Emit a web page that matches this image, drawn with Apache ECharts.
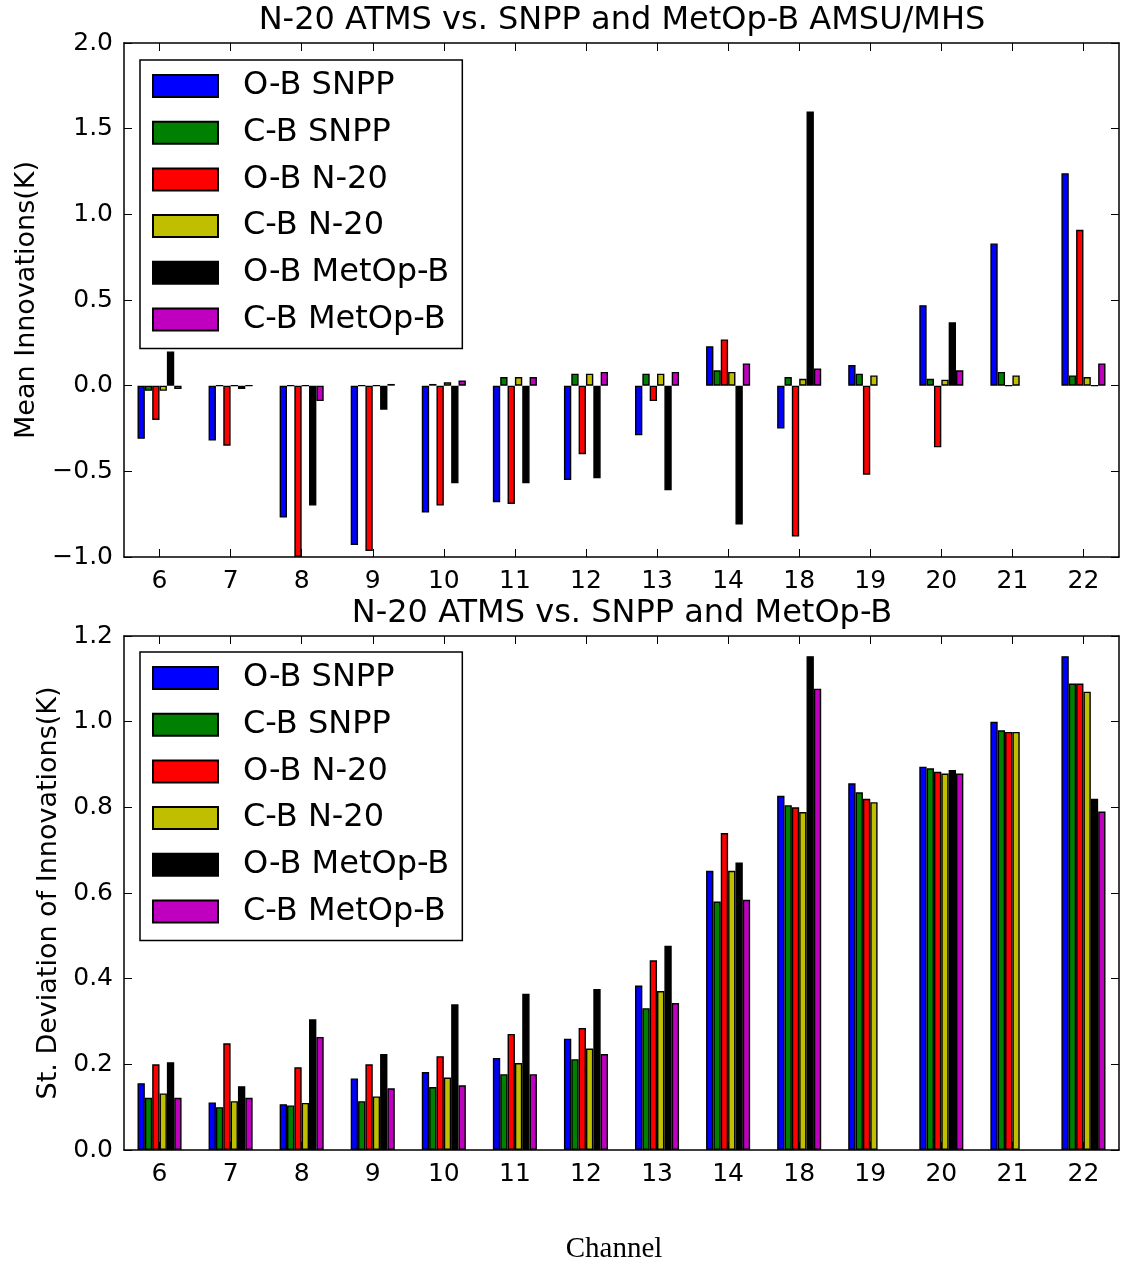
<!DOCTYPE html>
<html>
<head>
<meta charset="utf-8">
<script src="https://cdn.jsdelivr.net/npm/echarts@6/dist/echarts.min.js"></script>
<style>
  html, body { margin: 0; padding: 0; background: #fff; }
  #main { width: 1121px; height: 1261px; }
</style>
</head>
<body>
<div id="main"></div>
<script>
const channels = ["6", "7", "8", "9", "10", "11", "12", "13", "14", "18", "19", "20", "21", "22"];
const seriesNames = ["O-B SNPP", "C-B SNPP", "O-B N-20", "C-B N-20", "O-B MetOp-B", "C-B MetOp-B"];
const seriesColors = ["#0000ff", "#008000", "#ff0000", "#bfbf00", "#000000", "#bf00bf"];

// mean innovations (K)
const meanObSnpp  = [-0.31, -0.32, -0.77, -0.93, -0.74, -0.68, -0.55, -0.29, 0.23, -0.25, 0.12, 0.47, 0.83, 1.24];
const meanCbSnpp  = [-0.03, 0, 0, 0, 0.01, 0.05, 0.07, 0.07, 0.09, 0.05, 0.07, 0.04, 0.08, 0.06];
const meanObN20   = [-0.20, -0.35, -1.0, -0.965, -0.70, -0.69, -0.40, -0.09, 0.27, -0.88, -0.52, -0.36, 0, 0.91];
const meanCbN20   = [-0.03, 0, 0, 0, 0.02, 0.05, 0.07, 0.07, 0.08, 0.04, 0.06, 0.035, 0.06, 0.05];
const meanObMetop = [0.20, -0.02, -0.70, -0.14, -0.57, -0.57, -0.54, -0.61, -0.81, 1.60, null, 0.37, null, 0];
const meanCbMetop = [-0.02, 0, -0.09, 0.01, 0.03, 0.05, 0.08, 0.08, 0.13, 0.10, null, 0.09, null, 0.13];

// standard deviation of innovations (K)
const stdObSnpp  = [0.156, 0.111, 0.107, 0.167, 0.182, 0.215, 0.26, 0.384, 0.652, 0.827, 0.856, 0.895, 1.0, 1.153];
const stdCbSnpp  = [0.122, 0.10, 0.104, 0.114, 0.147, 0.177, 0.212, 0.331, 0.58, 0.805, 0.835, 0.891, 0.98, 1.089];
const stdObN20   = [0.20, 0.249, 0.193, 0.20, 0.219, 0.271, 0.285, 0.443, 0.74, 0.80, 0.82, 0.883, 0.976, 1.089];
const stdCbN20   = [0.132, 0.114, 0.11, 0.125, 0.169, 0.203, 0.237, 0.371, 0.652, 0.789, 0.812, 0.879, 0.976, 1.07];
const stdObMetop = [0.205, 0.149, 0.305, 0.224, 0.34, 0.365, 0.376, 0.477, 0.671, 1.153, null, 0.887, null, 0.82];
const stdCbMetop = [0.122, 0.122, 0.264, 0.144, 0.151, 0.177, 0.224, 0.343, 0.584, 1.077, null, 0.879, null, 0.79];

const meanSets = [meanObSnpp, meanCbSnpp, meanObN20, meanCbN20, meanObMetop, meanCbMetop];
const stdSets = [stdObSnpp, stdCbSnpp, stdObN20, stdCbN20, stdObMetop, stdCbMetop];

const FONT = "DejaVu Sans";
const fmt = (v) => v.toFixed(1).replace("-", "\u2212");

function catAxis(grid, pos, showLabels) {
  return {
    type: "category",
    gridIndex: grid,
    position: pos,
    data: channels,
    boundaryGap: true,
    axisLine: { show: true, onZero: false, lineStyle: { color: "#000", width: 1.5 } },
    axisTick: { show: true, inside: true, alignWithLabel: true, length: 8, lineStyle: { color: "#000", width: 1 } },
    axisLabel: { show: showLabels, fontFamily: FONT, fontSize: 25, color: "#000", margin: 12 },
    splitLine: { show: false },
  };
}

function valAxis(grid, pos, min, max, step, name, gap) {
  return {
    type: "value",
    gridIndex: grid,
    position: pos,
    min: min,
    max: max,
    interval: step,
    name: name,
    nameLocation: "middle",
    nameRotate: 90,
    nameGap: gap,
    nameTextStyle: { fontFamily: FONT, fontSize: 27, color: "#000" },
    axisLine: { show: true, lineStyle: { color: "#000", width: 1.5 } },
    axisTick: { show: true, inside: true, length: 8, lineStyle: { color: "#000", width: 1 } },
    axisLabel: { show: pos === "left", fontFamily: FONT, fontSize: 25, color: "#000", margin: 11, formatter: fmt },
    splitLine: { show: false },
  };
}

function legendBox(top) {
  return {
    orient: "vertical",
    left: 140,
    top: top,
    data: seriesNames,
    icon: "rect",
    itemWidth: 65,
    itemHeight: 22,
    itemGap: 14.7,
    padding: [10, 13, 13, 12],
    backgroundColor: "#fff",
    borderColor: "#000",
    borderWidth: 1.5,
    borderRadius: 0,
    selectedMode: false,
    z: 10,
    textStyle: { fontFamily: FONT, fontSize: 32, color: "#000", lineHeight: 32, padding: [0, 0, 0, 20] },
  };
}

function barSeries(sets, xi, yi) {
  return sets.map((data, i) => ({
    name: seriesNames[i],
    type: "bar",
    xAxisIndex: xi,
    yAxisIndex: yi,
    data: data.map((v) => (v === null ? "-" : v)),
    barGap: "0%",
    barCategoryGap: "38%",
    itemStyle: { color: seriesColors[i], borderColor: "#000", borderWidth: 1.4 },
    emphasis: { disabled: true },
  }));
}

const myChart = echarts.init(document.getElementById("main"));
const option = {
  animation: false,
  backgroundColor: "#fff",
  grid: [
    { left: 124, top: 43, width: 995, height: 514, show: false },
    { left: 124, top: 636, width: 995, height: 514, show: false },
  ],
  xAxis: [
    catAxis(0, "bottom", true),
    catAxis(0, "top", false),
    catAxis(1, "bottom", true),
    catAxis(1, "top", false),
  ],
  yAxis: [
    valAxis(0, "left", -1, 2, 0.5, "Mean Innovations(K)", 84),
    valAxis(0, "right", -1, 2, 0.5, "", 0),
    valAxis(1, "left", 0, 1.2, 0.2, "St. Deviation of Innovations(K)", 62),
    valAxis(1, "right", 0, 1.2, 0.2, "", 0),
  ],
  legend: [legendBox(60), legendBox(652)],
  graphic: [
    {
      type: "text", x: 622, y: 21,
      style: { text: "N-20 ATMS vs. SNPP and MetOp-B AMSU/MHS", font: "32px 'DejaVu Sans'", fill: "#000", align: "center", verticalAlign: "middle" },
    },
    {
      type: "text", x: 622, y: 614,
      style: { text: "N-20 ATMS vs. SNPP and MetOp-B", font: "32px 'DejaVu Sans'", fill: "#000", align: "center", verticalAlign: "middle" },
    },
    {
      type: "text", x: 614, y: 1249,
      style: { text: "Channel", font: "29px 'Liberation Serif'", fill: "#000", align: "center", verticalAlign: "middle" },
    },
  ],
  series: [...barSeries(meanSets, 0, 0), ...barSeries(stdSets, 2, 2)],
};

myChart.setOption(option);
</script>
</body>
</html>
